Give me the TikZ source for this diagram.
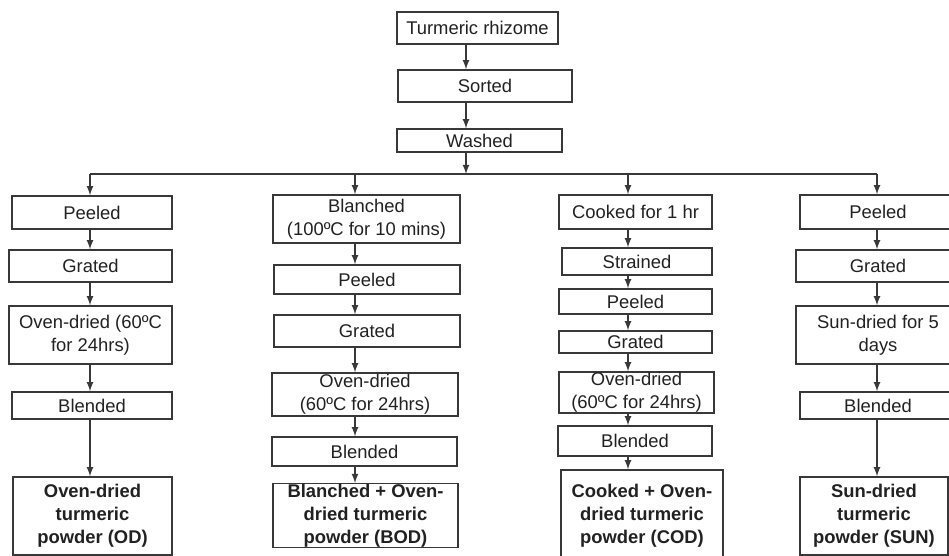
\documentclass[tikz,border=0pt]{standalone}
\usepackage{fontspec}
\setmainfont{Liberation Sans}
\usepackage{tikz}
\usetikzlibrary{calc}
\usetikzlibrary{arrows,shapes}
\usetikzlibrary{positioning}
\definecolor{boxline}{rgb}{0.22,0.22,0.22}
\definecolor{boxtext}{rgb}{0.13,0.13,0.13}
\newcommand{\fsz}{\fontsize{9.2}{11.6}\selectfont}

\begin{document}
\begin{tikzpicture}[x=0.5pt,y=-0.5pt,
    box/.style={draw=boxline,line width=0.7pt,inner sep=0pt,align=center,text=boxtext,font=\fsz},
    endbox/.style={box,font=\fsz\bfseries},
    arr/.style={-latex,draw=boxline,line width=0.6pt}]
      \useasboundingbox (0,0) rectangle (949,556);
      \node[box,minimum width=80.5pt,minimum height=16pt] (rhiz) at (477.5,28) {Turmeric rhizome};
      \node[box,minimum width=87pt,minimum height=16pt] (sort) at (485,86) {Sorted};
      \node[box,minimum width=82.5pt,minimum height=11.5pt] (wash) at (479.5,140.5) {Washed};
      \coordinate (cA) at (466,174);
      \coordinate (c1) at (90,174);
      \coordinate (c2) at (355,174);
      \coordinate (c3) at (628,174);
      \coordinate (c4) at (877,174);
      % oven-dried
      \node[box,minimum width=80pt,minimum height=16.5pt] (p1) at (92,212.5) {Peeled};
      \node[box,minimum width=81.5pt,minimum height=16pt] (g1) at (90.5,266) {Grated};
      \node[box,minimum width=81.5pt,minimum height=29pt] (o1) at (90.5,335) {Oven-dried (60ºC\\for 24hrs)};
      \node[box,minimum width=80pt,minimum height=13.5pt] (b1) at (92,405.5) {Blended};
      \node[endbox,minimum width=79.5pt,minimum height=39pt] (f1) at (92.5,516) {Oven-dried\\turmeric\\powder (OD)};
      % blanched
      \node[box,minimum width=93.5pt,minimum height=24pt] (bl2) at (366.5,219) {Blanched\\(100ºC for 10 mins)};
      \node[box,minimum width=93pt,minimum height=14.5pt] (p2) at (367,279.5) {Peeled};
      \node[box,minimum width=93pt,minimum height=16pt] (g2) at (367,331) {Grated};
      \node[box,minimum width=93pt,minimum height=21.5pt] (o2) at (365,394.5) {Oven-dried\\(60ºC for 24hrs)};
      \node[box,minimum width=92.5pt,minimum height=14.5pt] (b2) at (364.5,451.5) {Blended};
      \node[endbox,minimum width=92.5pt,minimum height=31.5pt] (f2) at (365.5,515.5) {Blanched + Oven-\\dried turmeric\\powder (BOD)};
      % cooked
      \node[box,minimum width=76.5pt,minimum height=17pt] (c3n) at (635.5,212) {Cooked for 1 hr};
      \node[box,minimum width=75pt,minimum height=13.5pt] (s3) at (637,261.5) {Strained};
      \node[box,minimum width=76.5pt,minimum height=12.5pt] (p3) at (635.5,301.5) {Peeled};
      \node[box,minimum width=76.5pt,minimum height=11pt] (g3) at (635.5,342) {Grated};
      \node[box,minimum width=77.5pt,minimum height=20.5pt] (o3) at (636.5,392.5) {Oven-dried\\(60ºC for 24hrs)};
      \node[box,minimum width=77pt,minimum height=15pt] (b3) at (635,441) {Blended};
      \node[endbox,minimum width=81pt,minimum height=46pt] (f3) at (642,516) {Cooked + Oven-\\dried turmeric\\powder (COD)};
      % sun-dried
      \node[box,minimum width=78pt,minimum height=17pt] (p4) at (878,212) {Peeled};
      \node[box,minimum width=82pt,minimum height=16pt] (g4) at (878,266) {Grated};
      \node[box,minimum width=82pt,minimum height=29pt] (s4) at (878,335) {Sun-dried for 5\\days};
      \node[box,minimum width=78pt,minimum height=13.5pt] (b4) at (878,405.5) {Blended};
      \node[endbox,minimum width=74pt,minimum height=39pt] (f4) at (874,516) {Sun-dried\\turmeric\\powder (SUN)};

      \draw[arr] (rhiz.south -| cA) -- (sort.north -| cA);
      \draw[arr] (sort.south -| cA) -- (wash.north -| cA);
      \draw[arr] (wash.south -| cA) -- (cA);
      \draw[draw=boxline,line width=0.6pt] (c1) -- (c4);
      \draw[arr] (c1) -- (p1.north -| c1);
      \draw[arr] (c2) -- (bl2.north -| c2);
      \draw[arr] (c3) -- (c3n.north -| c3);
      \draw[arr] (c4) -- (p4.north -| c4);
      \foreach \u/\v/\c in {p1/g1/c1,g1/o1/c1,o1/b1/c1,b1/f1/c1,
          bl2/p2/c2,p2/g2/c2,g2/o2/c2,o2/b2/c2,b2/f2/c2,
          c3n/s3/c3,s3/p3/c3,p3/g3/c3,g3/o3/c3,o3/b3/c3,b3/f3/c3,
          p4/g4/c4,g4/s4/c4,s4/b4/c4,b4/f4/c4}
        \draw[arr] (\u.south -| \c) -- (\v.north -| \c);
    \end{tikzpicture}
\end{document}
